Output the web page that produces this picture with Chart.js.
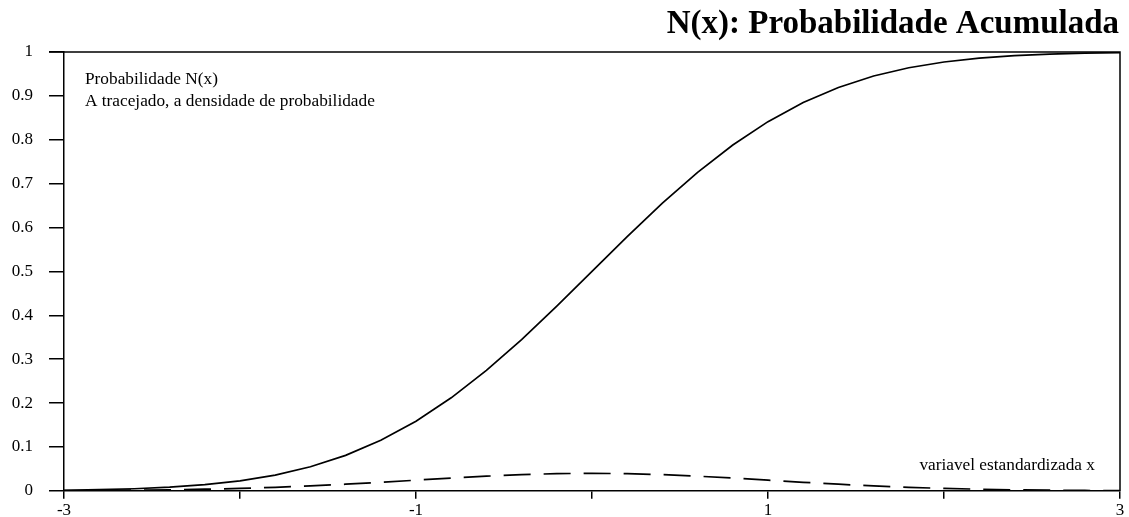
<!DOCTYPE html>
<html>
<head>
<meta charset="utf-8">
<script src="https://cdn.jsdelivr.net/npm/chart.js@4/dist/chart.umd.min.js"></script>
<style>
  html, body { margin: 0; padding: 0; background: #ffffff; }
  #wrap { width: 1129px; height: 517px; position: relative; }
</style>
</head>
<body>
<div id="wrap"><canvas id="c" width="1129" height="517"></canvas></div>
<script>
// Standardised variable x, sampled every 0.2
const xValues = [-3.0, -2.8, -2.6, -2.4, -2.2, -2.0, -1.8, -1.6, -1.4, -1.2, -1.0,
                 -0.8, -0.6, -0.4, -0.2, 0.0, 0.2, 0.4, 0.6, 0.8, 1.0,
                 1.2, 1.4, 1.6, 1.8, 2.0, 2.2, 2.4, 2.6, 2.8, 3.0];

// Cumulative probability N(x)
const cumulativeValues = [0.0013, 0.0026, 0.0047, 0.0082, 0.0139, 0.0228, 0.0359, 0.0548, 0.0808, 0.1151, 0.1587,
                          0.2119, 0.2743, 0.3446, 0.4207, 0.5000, 0.5793, 0.6554, 0.7257, 0.7881, 0.8413,
                          0.8849, 0.9192, 0.9452, 0.9641, 0.9772, 0.9861, 0.9918, 0.9953, 0.9974, 0.9987];

// Probability density (dashed curve, drawn at one tenth scale)
const densityValues = [0.0004, 0.0008, 0.0014, 0.0022, 0.0036, 0.0054, 0.0079, 0.0111, 0.0150, 0.0194, 0.0242,
                       0.0290, 0.0333, 0.0368, 0.0391, 0.0399, 0.0391, 0.0368, 0.0333, 0.0290, 0.0242,
                       0.0194, 0.0150, 0.0111, 0.0079, 0.0054, 0.0036, 0.0022, 0.0014, 0.0008, 0.0004];

// Axis tick labels
const xTickValues = [-3, -2, -1, 0, 1, 2, 3];
const xTickLabels = ['-3', '', '-1', '', '1', '', '3'];
const yTickValues = [0, 0.1, 0.2, 0.3, 0.4, 0.5, 0.6, 0.7, 0.8, 0.9, 1];
const yTickLabels = ['0', '0.1', '0.2', '0.3', '0.4', '0.5', '0.6', '0.7', '0.8', '0.9', '1'];

const titleText = 'N(x): Probabilidade Acumulada';
const noteLines = ['Probabilidade N(x)', 'A tracejado, a densidade de probabilidade'];
const axisNote = 'variavel estandardizada x';

const SERIF = "'Liberation Serif', 'Times New Roman', serif";

function toPoints(xs, ys) {
  return xs.map((x, i) => ({ x: x, y: ys[i] }));
}

// Frame on the top and right sides, plus title and notes
const decorations = {
  id: 'decorations',
  afterDraw(chart) {
    const { ctx, chartArea } = chart;
    const yTickLen = chart.options.scales.y.grid.tickLength;
    ctx.save();
    ctx.strokeStyle = '#000';
    ctx.lineWidth = 1.5;
    ctx.beginPath();
    ctx.moveTo(chartArea.left - yTickLen, chartArea.top);
    ctx.lineTo(chartArea.right, chartArea.top);
    ctx.lineTo(chartArea.right, chartArea.bottom);
    ctx.stroke();

    ctx.fillStyle = '#000';
    ctx.textBaseline = 'alphabetic';
    ctx.font = 'bold 33px ' + SERIF;
    ctx.textAlign = 'right';
    ctx.fillText(titleText, chartArea.right - 1, 33);

    ctx.font = '17.3px ' + SERIF;
    ctx.textAlign = 'left';
    ctx.fillText(noteLines[0], chartArea.left + 21, chartArea.top + 32);
    ctx.fillText(noteLines[1], chartArea.left + 21, chartArea.top + 54);

    ctx.textAlign = 'right';
    ctx.fillText(axisNote, chartArea.right - 25, chartArea.bottom - 21);
    ctx.restore();
  }
};

new Chart(document.getElementById('c'), {
  type: 'line',
  data: {
    datasets: [
      {
        label: 'N(x)',
        data: toPoints(xValues, cumulativeValues),
        borderColor: '#000',
        borderWidth: 1.7,
        pointRadius: 0,
        tension: 0,
        fill: false
      },
      {
        label: 'densidade',
        data: toPoints(xValues, densityValues),
        borderColor: '#000',
        borderWidth: 1.7,
        borderDash: [27, 13],
        pointRadius: 0,
        tension: 0,
        fill: false
      }
    ]
  },
  options: {
    responsive: false,
    animation: false,
    events: [],
    layout: { padding: { top: 52, right: 9, left: 0, bottom: 0 } },
    plugins: {
      legend: { display: false },
      title: { display: false },
      tooltip: { enabled: false }
    },
    scales: {
      x: {
        type: 'linear',
        min: -3,
        max: 3,
        afterBuildTicks(scale) {
          scale.ticks = xTickValues.map(v => ({ value: v }));
        },
        afterFit(scale) { scale.height = 26; },
        ticks: {
          autoSkip: false,
          maxRotation: 0,
          padding: 2,
          color: '#000',
          font: { family: SERIF, size: 17 },
          callback(value) {
            const i = xTickValues.indexOf(value);
            return i >= 0 ? xTickLabels[i] : '';
          }
        },
        grid: {
          drawOnChartArea: false,
          drawTicks: true,
          tickLength: 8,
          color: '#000',
          lineWidth: 1.5
        },
        border: { display: true, color: '#000', width: 1.5 }
      },
      y: {
        type: 'linear',
        min: 0,
        max: 1,
        afterBuildTicks(scale) {
          scale.ticks = yTickValues.map(v => ({ value: v }));
        },
        afterFit(scale) { scale.width = 64; },
        ticks: {
          autoSkip: false,
          padding: 16,
          color: '#000',
          font: { family: SERIF, size: 17 },
          callback(value) {
            const i = yTickValues.findIndex(v => Math.abs(v - value) < 1e-9);
            return i >= 0 ? yTickLabels[i] : '';
          }
        },
        grid: {
          drawOnChartArea: false,
          drawTicks: true,
          tickLength: 15,
          color: '#000',
          lineWidth: 1.5
        },
        border: { display: true, color: '#000', width: 1.5 }
      }
    }
  },
  plugins: [decorations]
});
</script>
</body>
</html>
